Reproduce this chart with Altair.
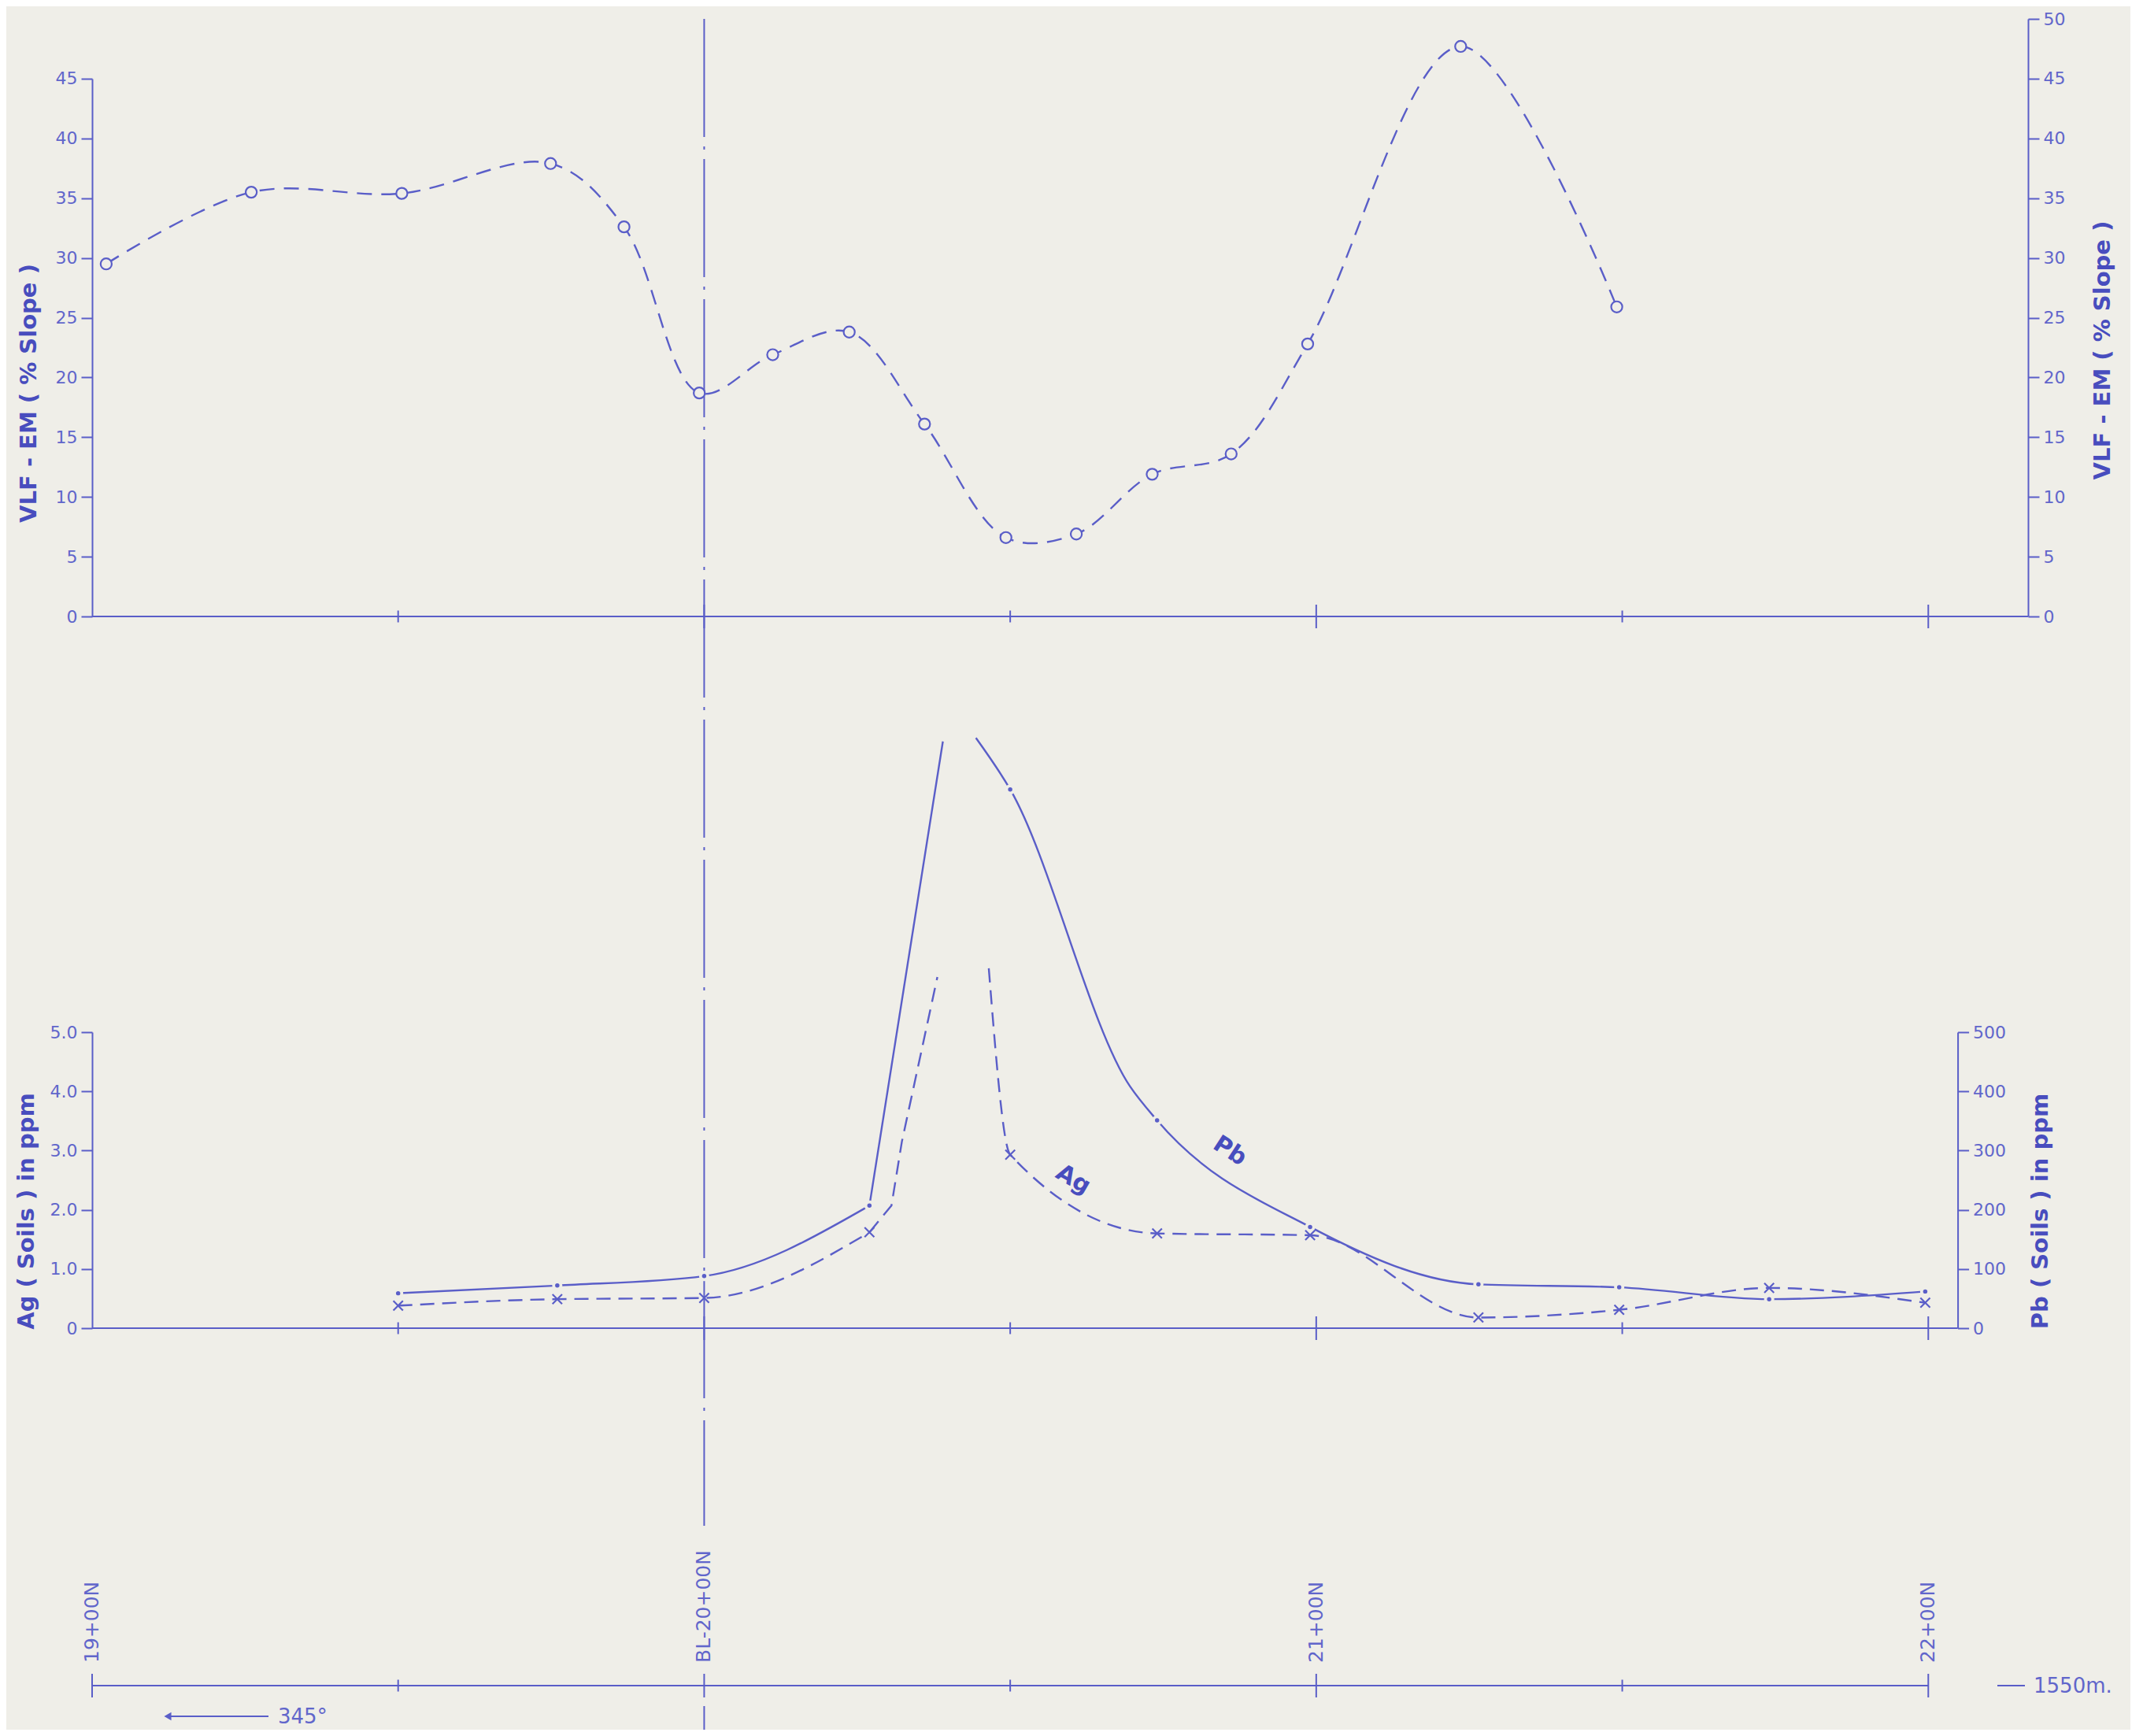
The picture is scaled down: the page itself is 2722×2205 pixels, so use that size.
import altair as alt
import pandas as pd

# ---------------- values ----------------
# Top panel: VLF-EM readings (% slope)
vlf_station = [1902.3, 1926.0, 1950.6, 1974.9, 1986.9, 1999.2, 2011.2, 2023.7,
               2036.0, 2049.3, 2060.8, 2073.2, 2086.1, 2098.6, 2123.6, 2149.1]
vlf_slope = [29.5, 35.5, 35.4, 37.9, 32.6, 18.7, 21.9, 23.8,
             16.1, 6.6, 6.9, 11.9, 13.6, 22.8, 47.7, 25.9]

# Lower panel: soil samples
soil_station = [1950, 1976, 2000, 2027, 2050, 2074, 2099, 2126.5, 2149.5, 2174, 2199.5]
ag_ppm = [0.38, 0.49, 0.51, 1.62, 2.93, 1.60, 1.57, 0.18, 0.31, 0.68, 0.43]
pb_ppm = [59, 72, 88, 207, 910, 351, 171, 74, 69, 49, 62]

# The anomaly runs off the top of the sheet: the drawn curves are broken there.
pb_break_station = [2039.0, 2044.4]
pb_break_ppm = [991, 997]
pb_trace_station = [2069.6]              # extra point
pb_trace_ppm = [408]
ag_break_station = [2038.1, 2046.5]
ag_break_ppm = [5.93, 6.08]
ag_trace_station = [2030.6, 2032.3]      # extra points
ag_trace_ppm = [2.07, 3.15]

# Station axis
ticks_major = [1900, 2000, 2100, 2200]
ticks_minor = [1950, 2050, 2150]
label_station = [1900, 2000, 2100, 2200]
label_text = ["19+00N", "BL-20+00N", "21+00N", "22+00N"]
baseline_station = 2000

vlf_left_ticks = [0, 5, 10, 15, 20, 25, 30, 35, 40, 45]
vlf_right_ticks = [0, 5, 10, 15, 20, 25, 30, 35, 40, 45, 50]
ag_ticks = [0, 1, 2, 3, 4, 5]
pb_ticks = [0, 100, 200, 300, 400, 500]

pb_label = {"text": ["Pb"], "station": [2085.9], "ppm": [299]}
ag_label = {"text": ["Ag"], "station": [2060.3], "ppm": [2.51]}

# ---------------- layout / style ----------------
W, H = 2459, 2173
X_END_TOP = 2216.3
X_END_GEO = 2204.8
PX_PER_STATION = W / (X_END_TOP - 1900)
VLF_Y0, VLF_PER = 759.0, 15.18
GEO_Y0, GEO_TOP = 1663.0, 1287.0
BASE_Y = 2117.0

BG = "#efeee8"
LINE_C = "#5a5ec8"
TEXT_C = "#6166cb"
TITLE_C = "#484dbe"
FONT = "DejaVu Sans"

xs = alt.Scale(domain=[1900, X_END_TOP], nice=False, zero=False)
vlf_left_scale = alt.Scale(domain=[0, 45], range=[VLF_Y0, VLF_Y0 - 45 * VLF_PER], nice=False, zero=False)
vlf_scale = alt.Scale(domain=[0, 50], range=[VLF_Y0, VLF_Y0 - 50 * VLF_PER], nice=False, zero=False)
ag_scale = alt.Scale(domain=[0, 5], range=[GEO_Y0, GEO_TOP], nice=False, zero=False)
pb_scale = alt.Scale(domain=[0, 500], range=[GEO_Y0, GEO_TOP], nice=False, zero=False)


def X(field="station"):
    return alt.X(f"{field}:Q", scale=xs, axis=None)


def y_axis(orient, values, title, tx, ty, offset=0, label_expr=None):
    kw = dict(orient=orient, values=values, title=title, titleX=tx, titleY=ty,
              titleAngle=270, titleAlign="center", titleBaseline="middle",
              titleFont=FONT, titleFontSize=29, titleFontWeight="bold", titleColor=TITLE_C,
              labelFont=FONT, labelFontSize=22, labelColor=TEXT_C, labelPadding=5,
              labelFlush=False, labelOverlap=False, labelBound=False,
              tickSize=14, tickWidth=2, tickColor=LINE_C, domainColor=LINE_C, domainWidth=2,
              grid=False, offset=offset)
    if label_expr:
        kw["labelExpr"] = label_expr
    return alt.Axis(**kw)


one = pd.DataFrame({"k": [0]})
layers = []

# baseline (BL 20+00N) dash-dot line
bl_df = pd.DataFrame({"station": [baseline_station]})
for y0, y1 in [(0, 1914), (2143, H)]:
    layers.append(alt.Chart(bl_df).mark_rule(color=LINE_C, strokeWidth=2, strokeDash=[150, 12, 4, 12]).encode(
        x=X(), y=alt.value(y0), y2=alt.value(y1)))

# horizontal axis lines and station ticks
for y_pix, end in [(VLF_Y0, X_END_TOP), (GEO_Y0, X_END_GEO), (BASE_Y, 2200)]:
    layers.append(alt.Chart(one).mark_rule(color=LINE_C, strokeWidth=2).encode(
        x=alt.XDatum(1900, type="quantitative", scale=xs, axis=None),
        x2=alt.X2Datum(end), y=alt.value(y_pix)))
    major = [t for t in ticks_major if t > 1900 or y_pix == BASE_Y]
    layers.append(alt.Chart(pd.DataFrame({"station": major})).mark_tick(
        orient="vertical", thickness=2, size=30, color=LINE_C, opacity=1).encode(x=X(), y=alt.value(y_pix)))
    layers.append(alt.Chart(pd.DataFrame({"station": ticks_minor})).mark_tick(
        orient="vertical", thickness=2, size=15, color=LINE_C, opacity=1).encode(x=X(), y=alt.value(y_pix)))

# station labels
layers.append(alt.Chart(pd.DataFrame({"station": label_station, "label": label_text})).mark_text(
    angle=270, align="left", baseline="middle", font=FONT, fontSize=25, color=TEXT_C).encode(
    x=X(), y=alt.value(2088), text="label:N"))

# ---------------- top panel: VLF-EM ----------------
vlf_df = pd.DataFrame({"station": vlf_station, "slope": vlf_slope})
layers.append(alt.Chart(vlf_df).mark_line(interpolate="catmull-rom", color=LINE_C, strokeWidth=2.4,
                                           strokeDash=[19, 12]).encode(
    x=X(), y=alt.Y("slope:Q", scale=vlf_left_scale,
                   axis=y_axis("left", vlf_left_ticks, "VLF - EM ( % Slope )", -81, 475))))
layers.append(alt.Chart(vlf_df).mark_circle(fill=BG, stroke=LINE_C, strokeWidth=2.2, size=200, opacity=1).encode(
    x=X(), y=alt.Y("slope:Q", scale=vlf_scale,
                   axis=y_axis("right", vlf_right_ticks, "VLF - EM ( % Slope )", 94, 420.5))))

# ---------------- lower panel: Ag & Pb in soils ----------------
def split_curve(samples_st, samples_v, brk_st, brk_v, tr_st, tr_v, col):
    df = pd.DataFrame({"station": samples_st + brk_st + tr_st, col: samples_v + brk_v + tr_v})
    df = df.sort_values("station").reset_index(drop=True)
    last = max(s for s in samples_st if s < brk_st[0])
    low = df[df.station <= last]
    rise = df[(df.station >= last) & (df.station <= brk_st[0])]
    fall = df[df.station >= brk_st[1]]
    return low, rise, fall


pb_low, pb_rise, pb_fall = split_curve(soil_station, pb_ppm, pb_break_station, pb_break_ppm,
                                       pb_trace_station, pb_trace_ppm, "ppm")
ag_low, ag_rise, ag_fall = split_curve(soil_station, ag_ppm, ag_break_station, ag_break_ppm,
                                       ag_trace_station, ag_trace_ppm, "ppm")

pb_offset = -(X_END_TOP - X_END_GEO) * PX_PER_STATION
pb_axis = y_axis("right", pb_ticks, "Pb ( Soils ) in ppm", 105, 1514, offset=pb_offset)
ag_axis = y_axis("left", ag_ticks, "Ag ( Soils ) in ppm", -84, 1514,
                 label_expr="datum.value == 0 ? '0' : format(datum.value, '.1f')")

# Ag dashed curve
for i, (d, interp) in enumerate([(ag_low, "monotone"), (ag_rise, "linear"), (ag_fall, "monotone")]):
    layers.append(alt.Chart(d).mark_line(interpolate=interp, color=LINE_C, strokeWidth=2.4,
                                         strokeDash=[18, 10]).encode(
        x=X(), y=alt.Y("ppm:Q", scale=ag_scale, axis=ag_axis if i == 0 else None)))

# Pb solid curve
for i, (d, interp) in enumerate([(pb_low, "monotone"), (pb_rise, "linear"), (pb_fall, "monotone")]):
    layers.append(alt.Chart(d).mark_line(interpolate=interp, color=LINE_C, strokeWidth=2.4).encode(
        x=X(), y=alt.Y("ppm:Q", scale=pb_scale, axis=pb_axis if i == 0 else None)))

soil_df = pd.DataFrame({"station": soil_station, "ag": ag_ppm, "pb": pb_ppm})
layers.append(alt.Chart(soil_df).mark_circle(fill=BG, size=170, opacity=1).encode(
    x=X(), y=alt.Y("pb:Q", scale=pb_scale, axis=None)))
layers.append(alt.Chart(soil_df).mark_circle(fill=LINE_C, size=30, opacity=1).encode(
    x=X(), y=alt.Y("pb:Q", scale=pb_scale, axis=None)))
layers.append(alt.Chart(soil_df).mark_point(shape="M-1,-1L1,1M-1,1L1,-1", filled=False, color=LINE_C,
                                            strokeWidth=2.2, size=150, opacity=1).encode(
    x=X(), y=alt.Y("ag:Q", scale=ag_scale, axis=None)))

# curve labels
layers.append(alt.Chart(pd.DataFrame(pb_label)).mark_text(
    angle=33, font=FONT, fontSize=30, fontWeight="bold", color=TITLE_C).encode(
    x=X(), y=alt.Y("ppm:Q", scale=pb_scale, axis=None), text="text:N"))
layers.append(alt.Chart(pd.DataFrame(ag_label)).mark_text(
    angle=30, font=FONT, fontSize=30, fontWeight="bold", color=TITLE_C).encode(
    x=X(), y=alt.Y("ppm:Q", scale=ag_scale, axis=None), text="text:N"))

# ---------------- annotations ----------------
layers.append(alt.Chart(one).mark_rule(color=LINE_C, strokeWidth=2).encode(
    x=alt.value(93), x2=alt.value(224), y=alt.value(2156)))
layers.append(alt.Chart(one).mark_point(shape="triangle-left", filled=True, color=LINE_C, size=110, opacity=1).encode(
    x=alt.value(96), y=alt.value(2156)))
layers.append(alt.Chart(one).mark_text(text="345°", align="left", baseline="middle", font=FONT,
                                       fontSize=26, color=TEXT_C).encode(x=alt.value(236), y=alt.value(2157)))
layers.append(alt.Chart(one).mark_rule(color=LINE_C, strokeWidth=2).encode(
    x=alt.value(2420), x2=alt.value(2455), y=alt.value(BASE_Y)))
layers.append(alt.Chart(one).mark_text(text="1550m.", align="left", baseline="middle", font=FONT,
                                       fontSize=26, color=TEXT_C).encode(x=alt.value(2466), y=alt.value(BASE_Y + 1)))

chart = alt.layer(*layers).resolve_scale(y="independent").properties(
    width=W, height=H,
    autosize=alt.AutoSizeParams(type="none"),
    padding={"left": 109, "top": 16, "right": 130, "bottom": 0},
    background=BG,
).configure_view(stroke=None)

chart.save("out.html", embed_options={"renderer": "svg", "actions": False})
